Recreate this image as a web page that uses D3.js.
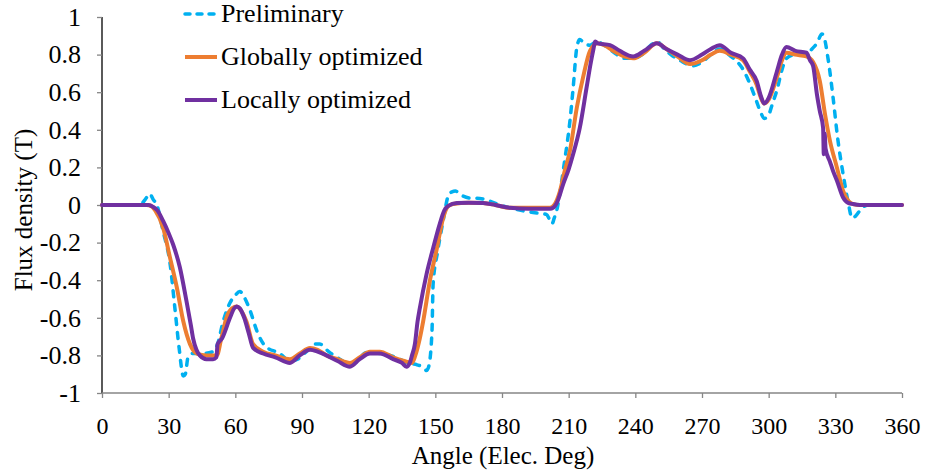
<!DOCTYPE html>
<html>
<head>
<meta charset="utf-8">
<script src="https://cdn.jsdelivr.net/npm/d3@7"></script>
<style>
  html, body { margin: 0; padding: 0; background: #fff; }
</style>
</head>
<body>
<svg id="chart" width="925" height="472"></svg>
<script>
// Air-gap flux density over one electrical period, three design stages
const xTicks = [0, 30, 60, 90, 120, 150, 180, 210, 240, 270, 300, 330, 360];
const yTicks = [-1, -0.8, -0.6, -0.4, -0.2, 0, 0.2, 0.4, 0.6, 0.8, 1];
const yTickLabels = ["-1", "-0.8", "-0.6", "-0.4", "-0.2", "0", "0.2", "0.4", "0.6", "0.8", "1"];
const seriesNames = ["Preliminary", "Globally optimized", "Locally optimized"];

const prelimAngle = [0,17,19.5,21.5,23,24.7,27.5,30.6,32.9,34.7,36.6,37.5,38.7,40.5,45,50,52,54.5,57.6,60,62,64,66.6,69.7,73.4,80,84.6,88,92,96,98,102,107,111.6,115,118,120.6,125,129.6,134,137,141.8,144,146,147,148.5,149,151,153.5,155.8,157.5,159,162,165.6,170,174.6,179,183.6,189,194,200,201.5,202.5,203.5,204.8,206,208,210.6,212,213.7,215,217,219.6,222.7,226,231.7,235,239,243,247,249.7,253,256,260,266,270,274,278,282,286,288,291,294.6,296.5,298,300,302,303.7,306,308,312,317,319.5,321.7,324,325,326.7,329,331,334,336,337.5,339,342,345,360];
const prelimFlux = [0,0,0.03,0.06,0.03,0,-0.14,-0.31,-0.56,-0.76,-0.91,-0.9,-0.81,-0.79,-0.79,-0.78,-0.74,-0.62,-0.52,-0.48,-0.46,-0.49,-0.56,-0.67,-0.75,-0.79,-0.83,-0.82,-0.78,-0.74,-0.74,-0.78,-0.82,-0.85,-0.83,-0.79,-0.78,-0.79,-0.8,-0.82,-0.84,-0.85,-0.86,-0.88,-0.86,-0.67,-0.42,-0.25,-0.085,0.048,0.07,0.074,0.05,0.037,0.035,0.02,0,-0.015,-0.03,-0.04,-0.05,-0.08,-0.1,-0.07,-0.02,0.06,0.22,0.45,0.62,0.84,0.88,0.86,0.85,0.87,0.85,0.8,0.78,0.78,0.8,0.85,0.87,0.83,0.8,0.77,0.74,0.76,0.8,0.83,0.8,0.76,0.73,0.66,0.55,0.49,0.46,0.48,0.55,0.61,0.72,0.78,0.8,0.8,0.83,0.86,0.91,0.89,0.78,0.57,0.36,0.13,0,-0.07,-0.06,-0.016,0,0];

const globalAngle = [0,20,22,24,27.5,30.6,33.7,36.6,39.6,42.7,47,51.7,53.5,56,58.5,60.7,63,65,68,72.5,78,84.6,89,93.6,97,101,106,111.6,116,120.6,125,131,136,139.5,141,143,144.5,147.6,150.7,153.5,155.5,158,165,171.5,177,183.6,192,201.6,203.5,206,208,210.6,213.7,216.5,219.6,223,226,230,235,239,244,249.7,254,259,264.6,270,274,278,283,288.5,291.5,294.6,296.5,298,300,303.7,306,308,312,317,320,323,325.4,327.6,330.7,333.5,336,338,341,360];
const globalFlux = [0,0,-0.005,-0.03,-0.12,-0.28,-0.44,-0.62,-0.74,-0.79,-0.8,-0.8,-0.72,-0.6,-0.55,-0.54,-0.57,-0.62,-0.74,-0.78,-0.8,-0.82,-0.79,-0.76,-0.77,-0.8,-0.82,-0.84,-0.81,-0.78,-0.78,-0.81,-0.83,-0.84,-0.8,-0.71,-0.62,-0.4,-0.23,-0.07,-0.01,0.005,0.012,0.01,0,-0.015,-0.015,-0.015,0,0.07,0.17,0.29,0.52,0.68,0.82,0.86,0.85,0.82,0.79,0.78,0.81,0.86,0.83,0.79,0.75,0.77,0.8,0.82,0.8,0.77,0.71,0.64,0.57,0.54,0.56,0.68,0.77,0.81,0.8,0.79,0.76,0.66,0.48,0.34,0.2,0.075,0.02,0.005,0,0];

const localAngle = [0,21,23,25,27.5,30,32,35,38,40,41,42.5,44,47,50,51.5,52,54,57.6,59.5,60.6,62,64,66,68,72.5,78,84.6,89,93.6,97,101,106,111.6,116,120.6,125,131,135,137,138.5,139.5,140.8,142,143,146,149,152,154,155.8,159.7,165,171.5,177,183.6,192,201.6,203,205,207.5,210,212,215,218,220,221,222,223,228.6,233,239,244,249.7,254,259,264.6,270,274,278,283,288.5,291.5,294.6,296.5,298,300,303.7,306,308,312,317,318.6,320,321.7,323,324.5,324.8,325.2,325.6,327.6,329,330.7,333.5,336,338,341,360];
const localFlux = [0,0,-0.01,-0.03,-0.085,-0.15,-0.21,-0.33,-0.51,-0.64,-0.71,-0.77,-0.8,-0.82,-0.82,-0.81,-0.74,-0.71,-0.6,-0.55,-0.54,-0.55,-0.6,-0.68,-0.76,-0.79,-0.81,-0.84,-0.8,-0.77,-0.78,-0.8,-0.83,-0.86,-0.82,-0.79,-0.79,-0.82,-0.84,-0.86,-0.84,-0.8,-0.74,-0.62,-0.55,-0.37,-0.23,-0.1,-0.03,-0.005,0.01,0.012,0.01,0,-0.015,-0.02,-0.02,-0.015,0.02,0.11,0.19,0.27,0.41,0.62,0.76,0.82,0.87,0.86,0.85,0.82,0.79,0.82,0.86,0.83,0.8,0.77,0.8,0.83,0.85,0.81,0.78,0.72,0.66,0.58,0.54,0.57,0.71,0.8,0.84,0.82,0.81,0.77,0.74,0.59,0.5,0.41,0.27,0.38,0.3,0.23,0.18,0.13,0.04,0.01,0.005,0,0];

const svg = d3.select("#chart");
const margin = { left: 102, right: 23, top: 17, bottom: 79 };
const W = 925, H = 472;
const fontFamily = "'Liberation Serif'";

const x = d3.scaleLinear().domain([0, 360]).range([margin.left, W - margin.right]);
const y = d3.scaleLinear().domain([-1, 1]).range([H - margin.bottom, margin.top]);

function styleText(size) {
  return sel => sel.style("font-family", fontFamily).style("font-size", size + "px").attr("fill", "#000");
}

// Y axis
const yAxis = svg.append("g")
  .attr("transform", `translate(${margin.left},0)`)
  .call(d3.axisLeft(y).tickValues(yTicks).tickSize(5).tickPadding(16)
    .tickFormat((d, i) => yTickLabels[i]));
yAxis.select(".domain").attr("stroke", "#000").attr("stroke-width", 1.3).attr("d", `M0,${y(1)}V${y(-1)}`);
yAxis.selectAll(".tick line").attr("stroke", "#868686").attr("stroke-width", 1.3);
yAxis.selectAll(".tick text").call(styleText(26));

// X axis along the bottom of the plot (at -1)
const xAxis = svg.append("g")
  .attr("transform", `translate(0,${y(-1)})`)
  .call(d3.axisBottom(x).tickValues(xTicks).tickSize(5).tickPadding(19));
xAxis.select(".domain").attr("stroke", "#868686").attr("stroke-width", 1.3).attr("d", `M${x(0)},0H${x(360)}`);
xAxis.selectAll(".tick line").attr("stroke", "#868686").attr("stroke-width", 1.3);
xAxis.selectAll(".tick text").call(styleText(24));

// Axis titles
svg.append("text")
  .attr("x", 503).attr("y", 464)
  .attr("text-anchor", "middle")
  .text("Angle  (Elec. Deg)")
  .call(styleText(25));
svg.append("text")
  .attr("transform", "translate(32,210) rotate(-90)")
  .attr("text-anchor", "middle")
  .text("Flux density (T)")
  .call(styleText(25));

// Series
const series = [
  { name: seriesNames[0], a: prelimAngle, v: prelimFlux, color: "#00B0F0", width: 3.5, dash: "6,8" },
  { name: seriesNames[1], a: globalAngle, v: globalFlux, color: "#ED7D31", width: 4, dash: null },
  { name: seriesNames[2], a: localAngle, v: localFlux, color: "#7030A0", width: 4, dash: null }
];

const line = d3.line()
  .x(d => x(d[0]))
  .y(d => y(d[1]))
  .curve(d3.curveMonotoneX);

series.forEach(s => {
  const pts = s.a.map((a, i) => [a, s.v[i]]);
  svg.append("path")
    .datum(pts)
    .attr("fill", "none")
    .attr("stroke", s.color)
    .attr("stroke-width", s.width)
    .attr("stroke-linejoin", "round")
    .attr("stroke-linecap", "round")
    .attr("stroke-dasharray", s.dash)
    .attr("d", line);
});

// Legend
const legendY = [14, 57, 100];
series.forEach((s, i) => {
  const g = svg.append("g").attr("transform", `translate(185,${legendY[i]})`);
  g.append("line")
    .attr("x1", 0).attr("x2", 32).attr("y1", 0).attr("y2", 0)
    .attr("stroke", s.color).attr("stroke-width", s.width)
    .attr("stroke-linecap", s.dash ? "round" : "butt")
    .attr("stroke-dasharray", s.dash ? "5,7" : null);
  g.append("text")
    .attr("x", 36).attr("y", 8)
    .text(s.name)
    .call(styleText(26));
});
</script>
</body>
</html>
